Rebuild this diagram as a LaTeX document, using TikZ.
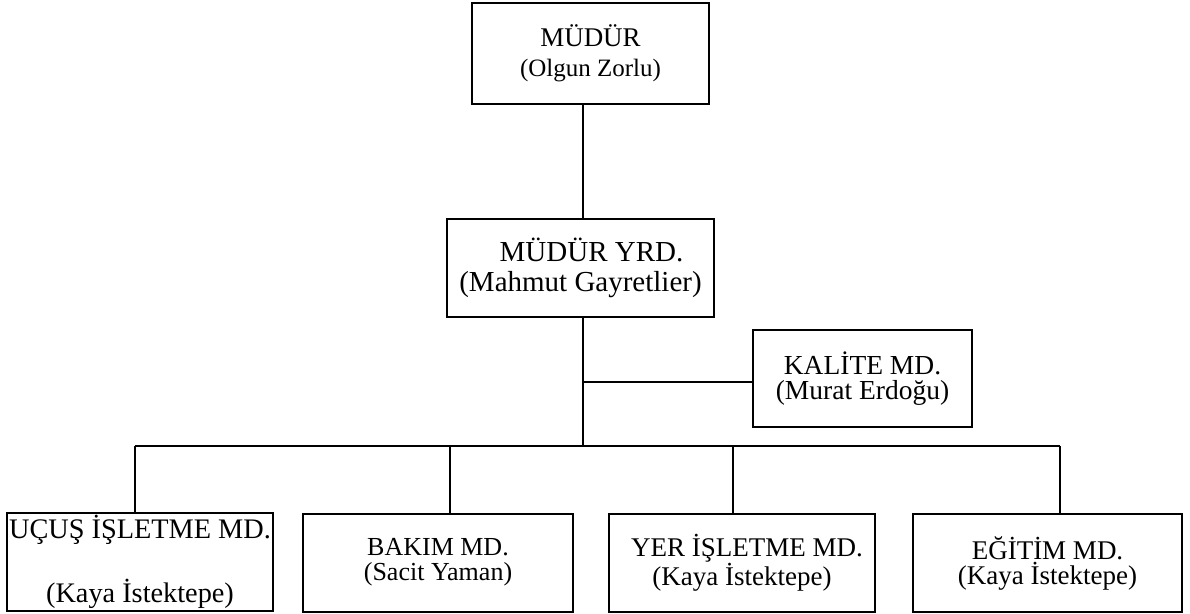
\documentclass[tikz,border=0pt]{standalone}
\usepackage{fontspec}
\setmainfont{Liberation Serif}
\begin{document}
\begin{tikzpicture}[x=1pt,y=-1pt,
  box/.style={draw, line width=2pt, align=center, inner sep=0pt},
  link/.style={line width=1.7pt},
  unit/.style={box, minimum width=268pt, minimum height=98pt,
               font=\fontsize{27}{25}\selectfont}]
\useasboundingbox (0,0) rectangle (1190,613);

% top management
\node[box, minimum width=237pt, minimum height=101pt,
      font=\fontsize{27}{30}\selectfont] (mudur) at (590.5,53.5)
  {MÜDÜR\\{\fontsize{25}{30}\selectfont (Olgun Zorlu)}};
\node[box, minimum width=267pt, minimum height=98pt,
      font=\fontsize{29}{30}\selectfont] (yrd) at (580.5,268)
  {\hspace*{22pt}MÜDÜR YRD.\\(Mahmut Gayretlier)};
\node[box, minimum width=219pt, minimum height=97pt,
      font=\fontsize{27.5}{25.5}\selectfont] (kalite) at (862.5,378.5)
  {KALİTE MD.\\(Murat Erdoğu)};

% departments
\node[unit, minimum width=266pt, font=\fontsize{28.3}{25}\selectfont] (ucus) at (140,562)
  {UÇUŞ İŞLETME MD.\\[33pt](Kaya İstektepe)};
\node[unit, minimum width=270pt, font=\fontsize{26}{25}\selectfont] (bakim) at (438,562.5)
  {BAKIM MD.\\(Sacit Yaman)};
\node[unit, minimum width=266pt] (yer) at (742,563)
  {\hspace*{10pt}YER İŞLETME MD.\\(Kaya İstektepe)};
\node[unit, minimum width=269pt] (egitim) at (1047.5,563)
  {EĞİTİM MD.\\(Kaya İstektepe)};

% connectors
\coordinate (bus) at (583,446);
\coordinate (kj) at (583,382);
\draw[link] (mudur.south -| bus) -- (yrd.north -| bus);
\draw[link] (yrd.south -| bus) -- (bus);
\draw[link] (kj) -- (kalite.west |- kj);
\draw[link] (135,446) -- (1060,446);
\draw[link] (135,446) -- (ucus.north -| 135,0);
\draw[link] (450,446) -- (bakim.north -| 450,0);
\draw[link] (733,446) -- (yer.north -| 733,0);
\draw[link] (1060,446) -- (egitim.north -| 1060,0);
\end{tikzpicture}
\end{document}
